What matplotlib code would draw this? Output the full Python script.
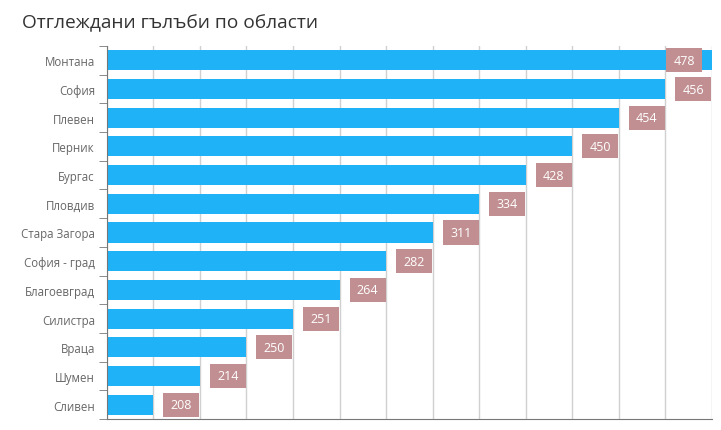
import numpy as np
import matplotlib
matplotlib.use("Agg")
import matplotlib.pyplot as plt

plt.rcParams['font.family'] = ['Open Sans', 'DejaVu Sans']

regions = ["Монтана", "София", "Плевен", "Перник", "Бургас", "Пловдив", "Стара Загора",
           "София - град", "Благоевград", "Силистра", "Враца", "Шумен", "Сливен"]
values = [478, 456, 454, 450, 428, 334, 311, 282, 264, 251, 250, 214, 208]

barColor = "#1fb2f6"
boxColor = "#c18f91"

# bars in the original are drawn by rank, not by value
n = len(regions)
lengths = np.arange(n, 0, -1)
ypos = np.arange(n)

fig = plt.figure(figsize=(7.21, 4.31), dpi=100)
ax = fig.add_axes([0.148, 0.0255, 0.8395, 0.8655])

ax.barh(ypos, lengths, height=0.7, color=barColor, zorder=2)

xmax = n
boxW = 36 / 46.5
gap = 10 / 46.5
for y, L, v in zip(ypos, lengths, values):
    x0 = L + gap
    if x0 + boxW > xmax:
        x0 = xmax - gap - boxW
    ax.barh(y, boxW, left=x0, height=0.84, color=boxColor, zorder=3)
    ax.text(x0 + boxW / 2, y, str(v), color="white", fontsize=9,
            ha="center", va="center", zorder=4)

ax.set_xlim(0, xmax)
ax.set_ylim(n - 0.5, -0.5)
ax.set_xticks(np.arange(0, xmax + 1))
ax.set_xticklabels([])
ax.tick_params(axis="x", length=0)
ax.grid(axis="x", color="#d0d0d0", linewidth=1, zorder=0)

ax.set_yticks(ypos)
ax.set_yticklabels(regions, fontsize=8.3, color="#666666")
ax.set_yticks(np.arange(n + 1) - 0.5, minor=True)
ax.tick_params(axis="y", which="major", length=0, pad=8.5)
ax.tick_params(axis="y", which="minor", length=6, color="#777777")

for s in ["top", "right"]:
    ax.spines[s].set_visible(False)
for s in ["left", "bottom"]:
    ax.spines[s].set_color("#777777")

fig.text(0.03, 0.945, "Отглеждани гълъби по области", fontsize=13.8, color="#333333",
         ha="left", va="center")

fig.savefig("out.png", dpi=100)
